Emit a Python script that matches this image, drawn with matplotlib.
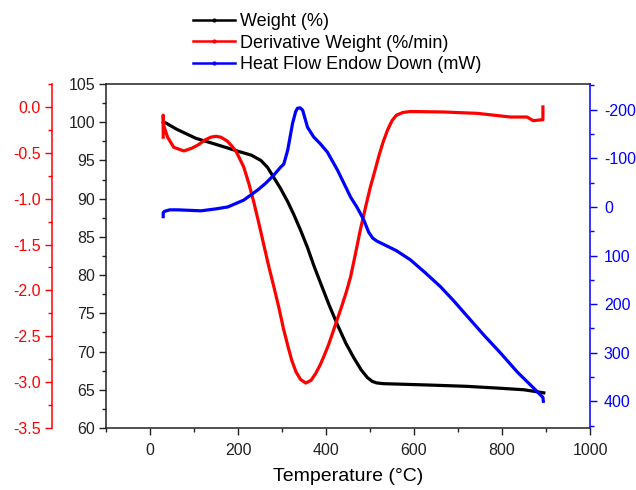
import numpy as np
import matplotlib
matplotlib.use('Agg')
import matplotlib.pyplot as plt
from matplotlib.lines import Line2D
from matplotlib.ticker import MultipleLocator, FormatStrFormatter

plt.rcParams['font.family'] = ['Liberation Sans', 'DejaVu Sans']
plt.rcParams['axes.unicode_minus'] = False

# weight loss (%)
temp_w = [30, 36, 60, 104, 150, 206, 230, 252, 267, 281, 297, 313, 327, 342, 358,
          372, 388, 407, 426, 445, 463, 480, 494, 505, 515, 530, 560, 645, 720, 796, 850, 895]
weight = [100.0, 99.9, 99.1, 97.9, 97.1, 96.1, 95.7, 95.0, 94.1, 92.8, 91.3, 89.6, 87.9, 85.9, 83.6,
          81.3, 78.9, 76.1, 73.5, 71.1, 69.2, 67.6, 66.6, 66.1, 65.9, 65.8, 65.75, 65.6, 65.45, 65.2, 65.0, 64.6]

# derivative weight (%/min)
temp_d = [30, 30, 31, 40, 54, 77, 95, 109, 125, 138, 150, 161, 175, 184, 195, 202, 213, 225,
          236, 247, 258, 270, 282, 293, 303, 313, 322, 332, 342, 354, 366, 376, 386, 396,
          406, 416, 426, 436, 446, 456, 467, 478, 490, 501, 512, 521, 530, 540, 550, 560,
          575, 592, 667, 744, 819, 857, 871, 890, 893, 893]
deriv = [-0.33, -0.09, -0.2, -0.33, -0.44, -0.48, -0.45, -0.415, -0.36, -0.33, -0.32, -0.33,
         -0.37, -0.415, -0.48, -0.546, -0.655, -0.84, -1.04, -1.26, -1.49, -1.74, -1.97,
         -2.19, -2.41, -2.60, -2.76, -2.89, -2.97, -3.01, -2.98, -2.91, -2.82, -2.71,
         -2.59, -2.45, -2.31, -2.17, -2.02, -1.85, -1.60, -1.34, -1.09, -0.87, -0.68,
         -0.52, -0.38, -0.25, -0.15, -0.09, -0.06, -0.05, -0.055, -0.07, -0.11, -0.11,
         -0.15, -0.14, -0.14, 0.0]

# heat flow (mW), endo down
temp_h = [30, 30, 33, 45, 63, 116, 150, 177, 213, 245, 262, 281, 297, 304, 313, 324, 331, 335,
          341, 347, 358, 372, 387, 403, 426, 440, 456, 470, 485, 497, 506, 515, 524, 560, 592,
          625, 660, 690, 721, 760, 796, 835, 871, 893, 894]
heat = [20, 12, 9, 6, 6, 8, 4, 0, -14, -35, -48, -65, -82, -88, -117, -172, -196, -203,
        -204, -199, -164, -144, -130, -113, -76, -50, -20, 0, 25, 52, 64, 70, 74, 90, 109,
        135, 164, 193, 225, 265, 300, 340, 372, 392, 400]

fig = plt.figure(figsize=(6.36, 4.9), dpi=100)
ax = fig.add_axes([106 / 636, 62 / 490, 484 / 636, 344 / 490])
ax_r = ax.twinx()
ax_b = ax.twinx()

lw = 2.3
ax.plot(temp_w, weight, color='black', lw=lw)
ax_r.plot(temp_d, deriv, color='#ff0000', lw=lw)
ax_b.plot(temp_h, heat, color='#0000ff', lw=lw)

ax.set_xlim(-100, 1000)
ax.set_ylim(60, 105)
ax_r.set_ylim(-3.5, 0.25)
ax_b.set_ylim(455, -253)

ax.xaxis.set_major_locator(MultipleLocator(200))
ax.xaxis.set_minor_locator(MultipleLocator(100))
ax.yaxis.set_major_locator(MultipleLocator(5))
ax.yaxis.set_minor_locator(MultipleLocator(2.5))
ax_r.yaxis.set_major_locator(MultipleLocator(0.5))
ax_r.yaxis.set_minor_locator(MultipleLocator(0.25))
ax_r.yaxis.set_major_formatter(FormatStrFormatter('%.1f'))
ax_b.yaxis.set_major_locator(MultipleLocator(100))
ax_b.yaxis.set_minor_locator(MultipleLocator(50))

fs = 11.5

# black weight axis
ax.spines['right'].set_visible(False)
ax.tick_params(axis='both', which='major', direction='out', length=5, width=1, labelsize=fs, pad=3, colors='#222222')
ax.tick_params(axis='both', which='minor', direction='out', length=3, width=1, colors='#222222')
ax.tick_params(axis='x', which='major', pad=6)
for s in ['left', 'top', 'bottom']:
    ax.spines[s].set_color('#222222')
    ax.spines[s].set_linewidth(1.1)

# red derivative axis, outward on the left
for s in ['right', 'top', 'bottom']:
    ax_r.spines[s].set_visible(False)
ax_r.spines['left'].set_visible(True)
ax_r.spines['left'].set_position(('outward', 54 * 0.72))
ax_r.spines['left'].set_color('#ff0000')
ax_r.spines['left'].set_linewidth(1.1)
ax_r.yaxis.set_ticks_position('left')
ax_r.yaxis.set_label_position('left')
ax_r.tick_params(axis='y', which='major', direction='out', length=5, width=1, labelsize=fs, pad=3, colors='#ff0000')
ax_r.tick_params(axis='y', which='minor', direction='out', length=3, width=1, colors='#ff0000')

# blue heat flow axis on the right
for s in ['left', 'top', 'bottom']:
    ax_b.spines[s].set_visible(False)
ax_b.spines['right'].set_color('#0000ff')
ax_b.spines['right'].set_linewidth(1.1)
ax_b.tick_params(axis='y', which='major', direction='out', length=5, width=1, labelsize=fs, pad=5, colors='#0000ff')
ax_b.tick_params(axis='y', which='minor', direction='out', length=3, width=1, colors='#0000ff')

ax.set_xlabel('Temperature (\u00b0C)', fontsize=14)
ax.xaxis.set_label_coords(0.5, -0.117)
ax.xaxis.label.set_va('top')

handles = [
    Line2D([], [], color='black', lw=1.8, marker='o', markersize=2),
    Line2D([], [], color='#ff0000', lw=1.8, marker='o', markersize=2),
    Line2D([], [], color='#0000ff', lw=1.8, marker='o', markersize=2),
]
labels = ['Weight (%)', 'Derivative Weight (%/min)', 'Heat Flow Endow Down (mW)']
fig.legend(handles, labels, loc='upper left', bbox_to_anchor=(193 / 636, 1 - 13 / 490),
           frameon=False, fontsize=13, handlelength=2.3, handletextpad=0.28,
           labelspacing=0.25, borderpad=0, borderaxespad=0, numpoints=1)

fig.savefig('out.png', dpi=100)
